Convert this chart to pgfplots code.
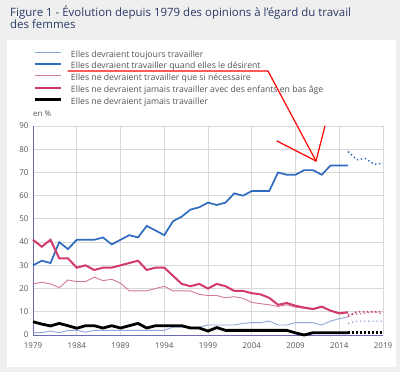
\documentclass[border=0pt]{standalone}
\usepackage{fontspec}
\setmainfont{Open Sans}
\usepackage{pgfplots}
\usepackage{pgfplotstable}
\pgfplotsset{compat=1.18}
\definecolor{bgc}{HTML}{EFEFEF}
\definecolor{titlec}{HTML}{2B3A67}
\definecolor{txt}{HTML}{555555}
\definecolor{lblue}{HTML}{8FA6D8}
\definecolor{dblue}{HTML}{2F6BBF}
\definecolor{lpink}{HTML}{D47A96}
\definecolor{dpink}{HTML}{D23A6A}
\definecolor{axc}{HTML}{6B6BB5}
\definecolor{gridc}{HTML}{D9D9D9}

\pgfplotstableread{
year v
1979 1
1980 1
1981 1.7
1982 1
1983 2
1984 2
1985 1.2
1986 2
1987 2
1988 2
1989 2
1990 2
1991 2
1992 2
1993 2
1994 2
1995 3.4
1996 3.4
1997 3.4
1998 3.4
1999 4.3
2000 4.3
2001 4.3
2002 4.3
2003 5
2004 5.3
2005 5.3
2006 6
2007 4.3
2008 4.3
2009 5.3
2010 5.3
2011 5.3
2012 4.3
2013 6
2014 7
2015 7.8
}\toujours

\pgfplotstableread{
year v
2015 5
2016 6
2017 6
2018 6
2019 6
}\toujoursP

\pgfplotstableread{
year v
1979 30
1980 32
1981 31
1982 40
1983 37
1984 41
1985 41
1986 41
1987 42
1988 39
1989 41
1990 43
1991 42
1992 47
1993 45
1994 43
1995 49
1996 51
1997 54
1998 55
1999 57
2000 56
2001 57
2002 61
2003 60
2004 62
2005 62
2006 62
2007 70
2008 69
2009 69
2010 71
2011 71
2012 69
2013 73
2014 73
2015 73
}\desirent

\pgfplotstableread{
year v
2015 79
2016 75.5
2017 76
2018 73.5
2019 74
}\desirentP

\pgfplotstableread{
year v
1979 22
1980 22.7
1981 22
1982 20.4
1983 23.7
1984 23
1985 23
1986 24.9
1987 23.4
1988 24
1989 22.3
1990 19
1991 19
1992 19
1993 20
1994 21
1995 19
1996 19
1997 19
1998 17.5
1999 17
2000 17
2001 16
2002 16.5
2003 15.8
2004 14
2005 13.5
2006 13
2007 12.3
2008 13
2009 12
2010 11.5
2011 11
2012 12
2013 10.5
2014 9.5
2015 9.5
}\necessaire

\pgfplotstableread{
year v
2015 9
2016 9
2017 9.5
2018 10
2019 9
}\necessaireP

\pgfplotstableread{
year v
1979 41
1980 38
1981 41
1982 33
1983 33
1984 29
1985 30
1986 28
1987 29
1988 29
1989 30
1990 31
1991 32
1992 28
1993 29
1994 29
1995 25.5
1996 22
1997 21
1998 22
1999 20
2000 22
2001 21
2002 19
2003 19
2004 18
2005 17.5
2006 16
2007 13
2008 13.8
2009 12.6
2010 11.8
2011 11.2
2012 12.2
2013 10.5
2014 9.3
2015 9.8
}\enfants

\pgfplotstableread{
year v
2015 8
2016 10
2017 10
2018 10
2019 10
}\enfantsP

\pgfplotstableread{
year v
1979 5.7
1980 4.7
1981 3.9
1982 5
1983 4
1984 2.9
1985 4
1986 4
1987 3
1988 4
1989 3
1990 4
1991 5
1992 3
1993 4
1994 4
1995 4
1996 4
1997 3
1998 3
1999 1.7
2000 3.2
2001 2
2002 2
2003 2
2004 2
2005 2
2006 2
2007 2
2008 2
2009 0.9
2010 0
2011 1
2012 1
2013 1
2014 1
2015 1
}\jamais

\pgfplotstableread{
year v
2015 1
2016 1
2017 1
2018 1
2019 1
}\jamaisP

\begin{document}
\begin{tikzpicture}[x=1bp,y=1bp]
\fill[bgc] (0,0) rectangle (400,372);
\useasboundingbox (0,0) rectangle (400,372);
\fill[white] (7,5) rectangle (396,332);
\node[anchor=north west, align=left, text=titlec, font=\fontsize{11.5}{12}\selectfont, inner sep=0pt] at (10,366.5)
  {Figure 1 - Évolution depuis 1979 des opinions à l’égard du travail\\des femmes};

\begin{axis}[
  at={(33bp,37bp)}, anchor=south west,
  scale only axis, width=350bp, height=209bp,
  xmin=1979, xmax=2019, ymin=0, ymax=90,
  xtick={1979,1984,...,2019}, ytick={0,10,...,90},
  grid=major, major grid style={draw=gridc, line width=0.8pt},
  axis x line*=bottom, axis y line*=left,
  axis line style={draw=axc, line width=0.8pt, -},
  major tick length=0pt,
  tick label style={font=\fontsize{8}{9}\selectfont, text=txt},
  /pgf/number format/assume math mode=true,
  x tick label style={/pgf/number format/1000 sep={}, yshift=-4bp},
  y tick label style={xshift=-1bp},
  clip=false,
  legend cell align=left,
  legend style={at={(axis description cs:0,1)}, anchor=south west,
    xshift=0bp, yshift=20bp, draw=none, fill=none, inner sep=0pt,
    font=\fontsize{8.7}{9}\selectfont, text=txt, row sep=4.17bp, column sep=0pt,
    /tikz/every odd column/.append style={column sep=8.5bp},
    nodes={inner sep=0pt, text height=5.8bp, text depth=1.7bp}},
  legend image code/.code={\draw[#1] (0bp,2.6bp) -- (26.5bp,2.6bp);},
]
\addplot[lblue, line width=0.9bp] table[x=year,y=v] {\toujours};
\addlegendentry{Elles devraient toujours travailler}
\addplot[dblue, line width=1.7bp] table[x=year,y=v] {\desirent};
\addlegendentry{Elles devraient travailler quand elles le désirent}
\addplot[lpink, line width=0.9bp] table[x=year,y=v] {\necessaire};
\addlegendentry{Elles ne devraient travailler que si nécessaire}
\addplot[dpink, line width=2bp] table[x=year,y=v] {\enfants};
\addlegendentry{Elles ne devraient jamais travailler avec des enfants en bas âge}
\addplot[black, line width=2.8bp] table[x=year,y=v] {\jamais};
\addlegendentry{Elles ne devraient jamais travailler}

\addplot[lblue!70!dblue, line width=1.1bp, dash pattern=on 1.3bp off 2.8bp, forget plot] table[x=year,y=v] {\toujoursP};
\addplot[dblue, line width=1.5bp, dash pattern=on 1.4bp off 2.6bp, forget plot] table[x=year,y=v] {\desirentP};
\addplot[lpink, line width=1.3bp, dash pattern=on 1.4bp off 2.6bp, forget plot] table[x=year,y=v] {\necessaireP};
\addplot[dpink, line width=1.8bp, dash pattern=on 1.4bp off 2.6bp, forget plot] table[x=year,y=v] {\enfantsP};
\addplot[black, line width=2.8bp, dash pattern=on 1.5bp off 2.5bp, forget plot] table[x=year,y=v] {\jamaisP};

\node[anchor=west, font=\fontsize{8}{9}\selectfont, text=txt, inner sep=0pt] at ([yshift=12.7bp]axis description cs:0,1) {en \%};
\end{axis}

% red annotation arrow
\draw[red, line width=1.2bp, line cap=round, line join=round] (68,301) -- (268,301) -- (316,211);
\draw[red, line width=1.2bp, line cap=round] (277,231) -- (316,211) -- (325,246);
\end{tikzpicture}
\end{document}
